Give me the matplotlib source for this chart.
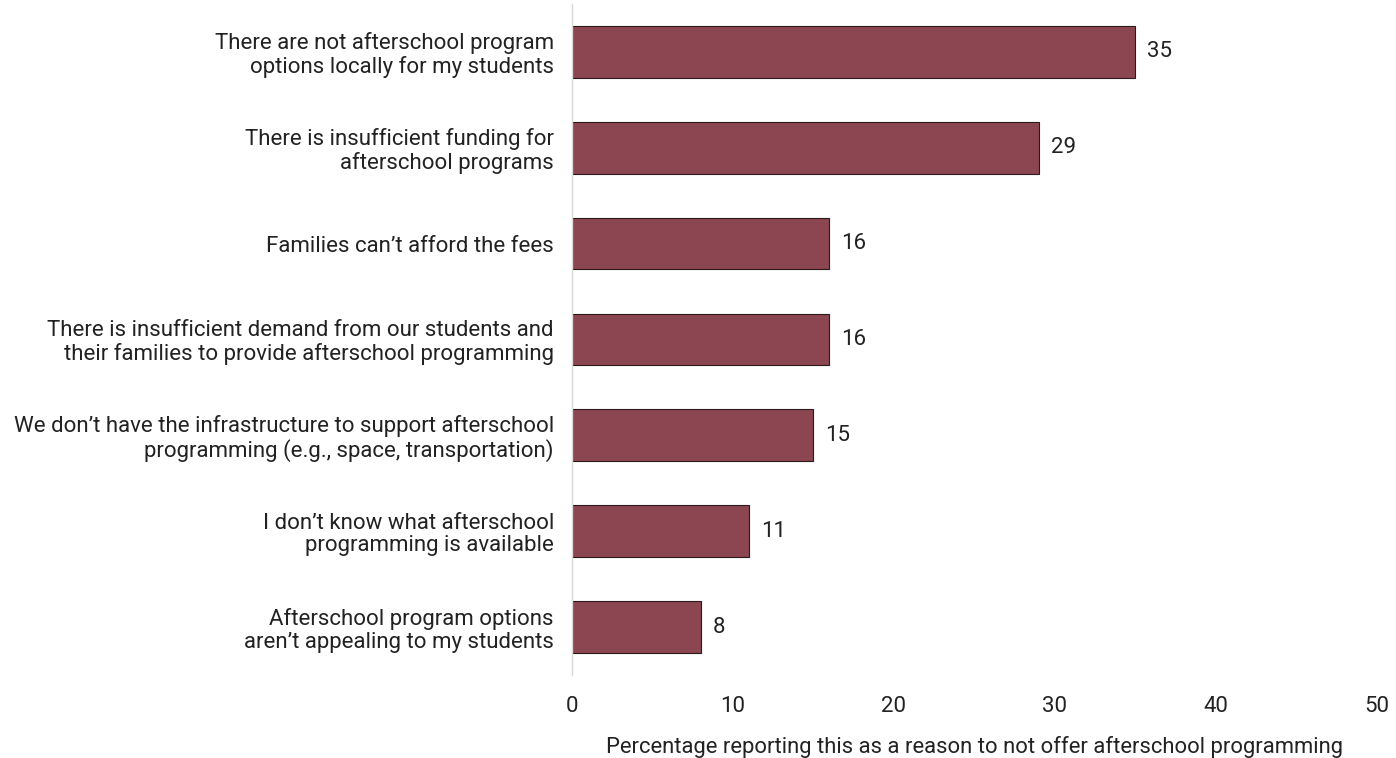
import matplotlib.pyplot as plt
from matplotlib import font_manager

reasons = [
    'There are not afterschool program\noptions locally for my students',
    'There is insufficient funding for\nafterschool programs',
    'Families can\u2019t afford the fees',
    'There is insufficient demand from our students and\ntheir families to provide afterschool programming',
    'We don\u2019t have the infrastructure to support afterschool\nprogramming (e.g., space, transportation)',
    'I don\u2019t know what afterschool\nprogramming is available',
    'Afterschool program options\naren\u2019t appealing to my students',
]
percent = [35, 29, 16, 16, 15, 11, 8]
xticks = [0, 10, 20, 30, 40, 50]

names = {f.name for f in font_manager.fontManager.ttflist}
font = 'Liberation Sans Narrow' if 'Liberation Sans Narrow' in names else 'Roboto'
plt.rcParams['font.family'] = [font, 'DejaVu Sans']

fig = plt.figure(figsize=(13.96, 7.58), dpi=100)
ax = fig.add_axes([0.4097, 0.1095, 0.5763, 0.8855])

pos = range(len(reasons))
ax.barh(pos, percent, height=0.54, color='#8c4651', edgecolor='#2a1a1c', linewidth=0.8)
for y, v in zip(pos, percent):
    ax.text(v + 0.75, y, str(v), va='center', ha='left', fontsize=16, color='#222222')

ax.set_xlim(0, 50)
ax.set_ylim(len(reasons) - 0.5, -0.5)
ax.set_yticks(list(pos))
ax.set_yticklabels(reasons, fontsize=16, color='#222222', linespacing=1.1)
ax.set_xticks(xticks)
ax.set_xticklabels([str(t) for t in xticks], fontsize=16, color='#222222')
ax.tick_params(axis='y', length=0, pad=13)
ax.tick_params(axis='x', length=0, pad=15)
ax.set_xlabel('Percentage reporting this as a reason to not offer afterschool programming',
              fontsize=15.8, color='#222222', labelpad=14)

for side in ['top', 'right', 'bottom']:
    ax.spines[side].set_visible(False)
ax.spines['left'].set_color('#d9d9d9')
ax.spines['left'].set_linewidth(1)

fig.savefig('out.png', dpi=100)
